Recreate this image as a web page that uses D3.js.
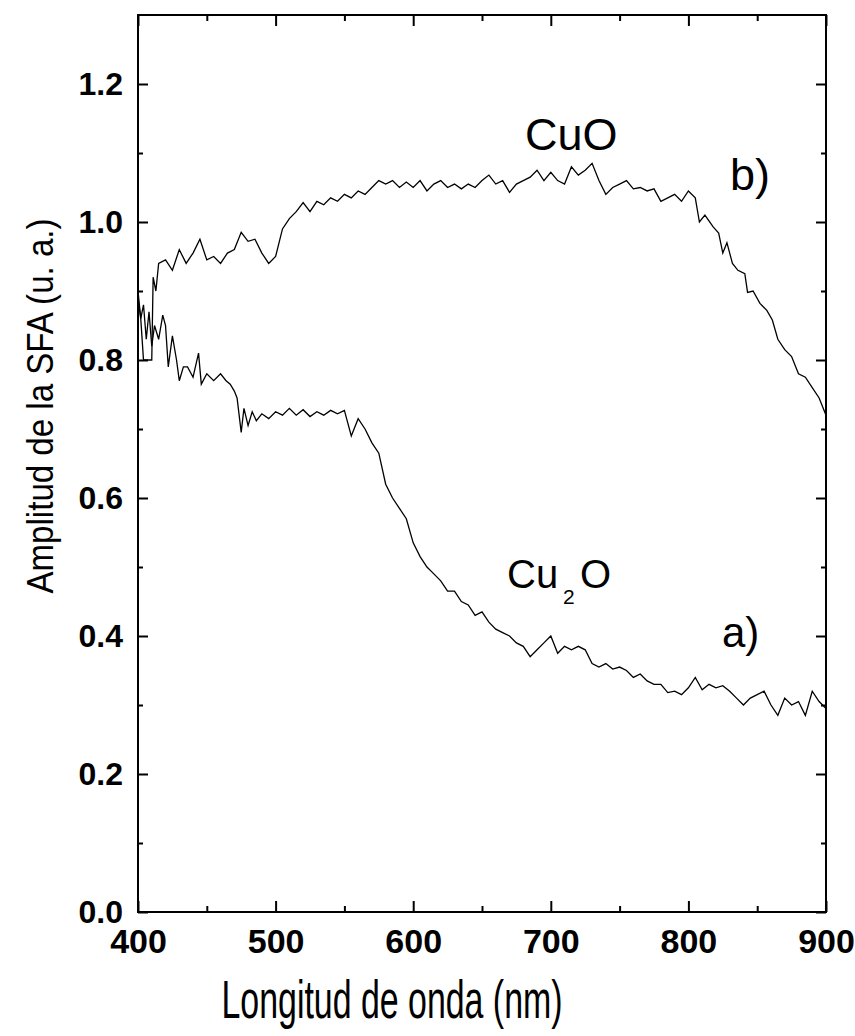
<!DOCTYPE html>
<html>
<head>
<meta charset="utf-8">
<script src="https://cdn.jsdelivr.net/npm/d3@7"></script>
<style>
  body { margin: 0; background: #fff; }
  text { font-family: "Liberation Sans", Arial, sans-serif; }
</style>
</head>
<body>
<div id="chart"></div>
<script>
// curve a) Cu2O
var cu2oWl = [400, 402, 404, 406, 408, 410, 412, 415, 418, 420, 422, 425, 428, 430, 433, 436, 440, 444, 446, 450,
  455, 460, 464, 467, 470, 472, 475, 477, 480, 483, 486, 490, 495, 500, 505, 510, 515, 520, 525, 530,
  535, 540, 545, 550, 555, 560, 565, 570, 575, 580, 585, 590, 595, 600, 605, 610, 615, 620, 625, 630,
  635, 640, 645, 650, 655, 660, 665, 670, 675, 680, 685, 690, 695, 700, 705, 710, 715, 720, 725, 730,
  735, 740, 745, 750, 755, 760, 765, 770, 775, 780, 785, 790, 795, 800, 805, 810, 815, 820, 825, 830,
  835, 840, 845, 850, 855, 860, 865, 870, 875, 880, 885, 890, 895, 900];
var cu2oAmp = [0.89, 0.86, 0.88, 0.83, 0.87, 0.82, 0.85, 0.83, 0.865, 0.85, 0.79, 0.835, 0.80, 0.77, 0.79, 0.79, 0.775, 0.81, 0.765, 0.78,
  0.77, 0.78, 0.77, 0.765, 0.755, 0.745, 0.695, 0.73, 0.705, 0.725, 0.712, 0.722, 0.715, 0.725, 0.72, 0.73, 0.72, 0.728, 0.718, 0.725,
  0.72, 0.727, 0.722, 0.727, 0.69, 0.715, 0.70, 0.68, 0.665, 0.62, 0.60, 0.585, 0.57, 0.535, 0.515, 0.50, 0.49, 0.48, 0.465, 0.465,
  0.45, 0.445, 0.43, 0.435, 0.42, 0.41, 0.405, 0.40, 0.39, 0.385, 0.37, 0.38, 0.39, 0.40, 0.375, 0.385, 0.38, 0.385, 0.38, 0.36,
  0.355, 0.36, 0.352, 0.355, 0.35, 0.34, 0.345, 0.335, 0.33, 0.33, 0.318, 0.32, 0.315, 0.325, 0.34, 0.322, 0.33, 0.325, 0.328, 0.32,
  0.31, 0.30, 0.31, 0.315, 0.32, 0.30, 0.285, 0.31, 0.30, 0.305, 0.285, 0.32, 0.305, 0.295];

// curve b) CuO
var cuoWl = [400, 402, 404, 410, 411, 413, 415, 420, 425, 430, 435, 440, 445, 450, 455, 460, 465, 470, 475, 480,
  485, 490, 495, 500, 505, 510, 515, 520, 525, 530, 535, 540, 545, 550, 555, 560, 565, 570, 575, 580,
  585, 590, 595, 600, 605, 610, 615, 620, 625, 630, 635, 640, 645, 650, 655, 660, 665, 670, 675, 680,
  685, 690, 695, 700, 705, 710, 715, 720, 725, 730, 735, 740, 745, 750, 755, 760, 765, 770, 775, 780,
  785, 790, 795, 800, 805, 808, 812, 818, 822, 825, 828, 832, 836, 841, 843, 847, 852, 857, 861, 865,
  870, 875, 880, 885, 890, 895, 900];
var cuoAmp = [0.90, 0.86, 0.80, 0.80, 0.92, 0.90, 0.94, 0.945, 0.93, 0.96, 0.94, 0.955, 0.975, 0.945, 0.95, 0.94, 0.955, 0.96, 0.985, 0.972,
  0.975, 0.955, 0.94, 0.95, 0.99, 1.005, 1.015, 1.028, 1.015, 1.03, 1.025, 1.035, 1.03, 1.04, 1.035, 1.045, 1.04, 1.05, 1.06, 1.055,
  1.06, 1.05, 1.058, 1.05, 1.06, 1.045, 1.055, 1.06, 1.05, 1.055, 1.048, 1.055, 1.05, 1.06, 1.068, 1.055, 1.06, 1.043, 1.055, 1.06,
  1.065, 1.075, 1.06, 1.072, 1.06, 1.055, 1.08, 1.068, 1.075, 1.085, 1.06, 1.04, 1.05, 1.055, 1.06, 1.048, 1.05, 1.045, 1.048, 1.03,
  1.035, 1.04, 1.03, 1.045, 1.035, 1.0, 1.01, 0.993, 0.984, 0.955, 0.97, 0.94, 0.93, 0.925, 0.898, 0.9, 0.882, 0.872, 0.858, 0.83,
  0.815, 0.805, 0.78, 0.775, 0.76, 0.745, 0.72];

var xTicks = [400, 500, 600, 700, 800, 900];
var xMinor = [450, 550, 650, 750, 850];
var yTicks = [0.0, 0.2, 0.4, 0.6, 0.8, 1.0, 1.2];
var yMinor = [0.1, 0.3, 0.5, 0.7, 0.9, 1.1];

var margin = {top: 15, right: 29, bottom: 124, left: 138},
    width = 855 - margin.left - margin.right,
    height = 1036 - margin.top - margin.bottom;

var svg = d3.select("#chart")
  .append("svg")
    .attr("width", 855)
    .attr("height", 1036)
  .append("g")
    .attr("transform", "translate(" + margin.left + "," + margin.top + ")");

var x = d3.scaleLinear().domain([400, 900]).range([0, width]);
var y = d3.scaleLinear().domain([0, 1.3]).range([height, 0]);

// bottom axis (ticks inward)
var bottom = svg.append("g")
  .attr("transform", "translate(0," + height + ")")
  .call(d3.axisBottom(x).tickValues(xTicks).tickSizeInner(-11).tickSizeOuter(0).tickPadding(17).tickFormat(d3.format("d")));
bottom.selectAll("text").style("font-size", "34px").style("font-weight", "bold").attr("fill", "#000");

svg.append("g")
  .attr("transform", "translate(0," + height + ")")
  .call(d3.axisBottom(x).tickValues(xMinor).tickSizeInner(-6).tickSizeOuter(0).tickFormat(""));

// top axis
svg.append("g")
  .call(d3.axisTop(x).tickValues(xTicks).tickSizeInner(-11).tickSizeOuter(0).tickFormat(""));
svg.append("g")
  .call(d3.axisTop(x).tickValues(xMinor).tickSizeInner(-6).tickSizeOuter(0).tickFormat(""));

// left axis
var left = svg.append("g")
  .call(d3.axisLeft(y).tickValues(yTicks).tickSizeInner(-10).tickSizeOuter(0).tickPadding(15).tickFormat(d3.format(".1f")));
left.selectAll("text").style("font-size", "32px").style("font-weight", "bold").attr("fill", "#000");

svg.append("g")
  .call(d3.axisLeft(y).tickValues(yMinor).tickSizeInner(-5).tickSizeOuter(0).tickFormat(""));

// right axis
svg.append("g")
  .attr("transform", "translate(" + width + ",0)")
  .call(d3.axisRight(y).tickValues(yTicks).tickSizeInner(-10).tickSizeOuter(0).tickFormat(""));
svg.append("g")
  .attr("transform", "translate(" + width + ",0)")
  .call(d3.axisRight(y).tickValues(yMinor).tickSizeInner(-5).tickSizeOuter(0).tickFormat(""));

svg.selectAll(".domain").remove();
svg.selectAll(".tick line").attr("stroke", "#000").attr("stroke-width", 2);

// frame
svg.append("rect")
  .attr("x", 0).attr("y", 0)
  .attr("width", width).attr("height", height)
  .style("fill", "none").style("stroke", "#000").style("stroke-width", 2);

var line = d3.line()
  .x(function(d){ return x(d[0]); })
  .y(function(d){ return y(d[1]); });

svg.append("path")
  .attr("d", line(d3.zip(cu2oWl, cu2oAmp)))
  .attr("fill", "none").attr("stroke", "#000").attr("stroke-width", 1.3);

svg.append("path")
  .attr("d", line(d3.zip(cuoWl, cuoAmp)))
  .attr("fill", "none").attr("stroke", "#000").attr("stroke-width", 1.3);

// curve labels
svg.append("text").attr("x", 525 - margin.left).attr("y", 150 - margin.top)
  .text("CuO").style("font-size", "45px");
svg.append("text").attr("x", 730 - margin.left).attr("y", 190 - margin.top)
  .text("b)").style("font-size", "45px");

var cu2o = svg.append("text").attr("x", 507 - margin.left).attr("y", 588 - margin.top).style("font-size", "40px");
cu2o.append("tspan").text("Cu");
cu2o.append("tspan").attr("x", 563 - margin.left).attr("y", 604 - margin.top).style("font-size", "21px").text("2");
cu2o.append("tspan").attr("x", 580 - margin.left).attr("y", 588 - margin.top).text("O");

svg.append("text").attr("x", 722 - margin.left).attr("y", 647 - margin.top)
  .text("a)").style("font-size", "42px");

// axis titles
svg.append("text")
  .attr("transform", "translate(" + (53 - margin.left) + "," + (406 - margin.top) + ")rotate(-90)")
  .attr("text-anchor", "middle")
  .attr("textLength", 375).attr("lengthAdjust", "spacingAndGlyphs")
  .style("font-size", "37px")
  .text("Amplitud de la SFA (u. a.)");

svg.append("text")
  .attr("x", 392 - margin.left).attr("y", 1018 - margin.top)
  .attr("text-anchor", "middle")
  .attr("textLength", 341).attr("lengthAdjust", "spacingAndGlyphs")
  .style("font-size", "54px")
  .text("Longitud de onda (nm)");
</script>
</body>
</html>
